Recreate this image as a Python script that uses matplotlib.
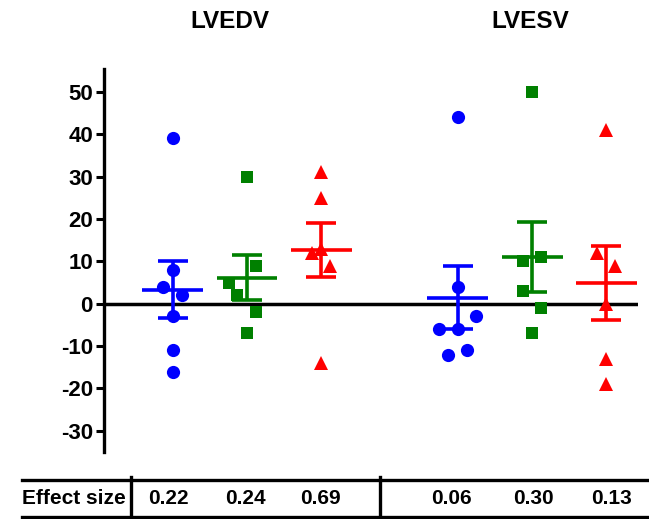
import numpy as np
import matplotlib
matplotlib.use('Agg')
import matplotlib.pyplot as plt
from matplotlib.lines import Line2D

plt.rcParams['font.family'] = ['Liberation Sans', 'DejaVu Sans']
plt.rcParams['font.weight'] = 'bold'
plt.rcParams['axes.unicode_minus'] = False

# values (change from baseline)
panels = ['LVEDV', 'LVESV']
lvedv_blue = [39, 8, 4, 2, -3, -11, -16]
lvedv_green = [30, 9, 5, 2, -2, -7]
lvedv_red = [31, 25, 13, 12, 9, -14]
lvesv_blue = [44, 4, -3, -6, -6, -11, -12]
lvesv_green = [50, 11, 10, 3, -1, -7]
lvesv_red = [41, 12, 9, 0, -13, -19]
effect_sizes = ['0.22', '0.24', '0.69', '0.06', '0.30', '0.13']
yticks = [-30, -20, -10, 0, 10, 20, 30, 40, 50]

# horizontal scatter offsets so overlapping points stay visible
jit_lvedv_blue = [0, 0, -0.13, 0.12, 0, 0, 0]
jit_lvedv_green = [0, 0.125, -0.24, -0.13, 0.125, 0]
jit_lvedv_red = [0, 0, 0, -0.125, 0.12, 0]
jit_lvesv_blue = [0, 0, 0.24, -0.25, 0, 0.12, -0.13]
jit_lvesv_green = [0, 0.125, -0.125, -0.125, 0.125, 0]
jit_lvesv_red = [0, -0.125, 0.12, 0, 0, 0]

series = [
    (1.0, lvedv_blue, jit_lvedv_blue, '#0000ff', 'o', 9.5),
    (2.0, lvedv_green, jit_lvedv_green, '#008000', 's', 8.8),
    (3.0, lvedv_red, jit_lvedv_red, '#ff0000', '^', 9.5),
    (4.836, lvesv_blue, jit_lvesv_blue, '#0000ff', 'o', 9.5),
    (5.836, lvesv_green, jit_lvesv_green, '#008000', 's', 8.8),
    (6.836, lvesv_red, jit_lvesv_red, '#ff0000', '^', 9.5),
]

fig = plt.figure(figsize=(6.49, 5.19), dpi=100)
ax = fig.add_axes([104 / 649, 1 - 452 / 519, (638 - 104) / 649, (452 - 69) / 519])

ax.axhline(0, color='black', lw=2.5, zorder=1)

lw = 2.6
for x, vals, jit, col, mk, ms in series:
    vals = np.array(vals, dtype=float)
    mean = vals.mean()
    sem = vals.std(ddof=1) / np.sqrt(len(vals))
    ax.plot(x + np.array(jit), vals, ls='none', marker=mk, ms=ms, color=col,
            markeredgewidth=0, zorder=3)
    ax.errorbar(x, mean, yerr=sem, fmt='none', ecolor=col, elinewidth=lw,
                capsize=10.8, capthick=lw, zorder=4)
    ax.hlines(mean, x - 0.41, x + 0.41, color=col, lw=lw, zorder=4)

ax.set_xlim(0.075, 7.262)
ax.set_ylim(-35, 55.4)
ax.set_yticks(yticks)
ax.set_xticks([])
for s in ['top', 'right', 'bottom']:
    ax.spines[s].set_visible(False)
ax.spines['left'].set_linewidth(2.4)
ax.tick_params(axis='y', length=6, width=2.2, pad=2, labelsize=16)
for lab in ax.get_yticklabels():
    lab.set_fontweight('bold')

# panel titles
fig.text(230 / 649, 1 - 21 / 519, panels[0], ha='center', va='center',
         fontsize=17.5, fontweight='bold')
fig.text(530 / 649, 1 - 21 / 519, panels[1], ha='center', va='center',
         fontsize=17.5, fontweight='bold')

# effect size table under the plot
def fx(px):
    return px / 649

def fy(py):
    return 1 - py / 519

lw_tab = 2.4
fig.add_artist(Line2D([fx(22), 1.0], [fy(480), fy(480)], color='black', lw=lw_tab))
fig.add_artist(Line2D([fx(22), 1.0], [fy(517), fy(517)], color='black', lw=lw_tab))
fig.add_artist(Line2D([fx(131), fx(131)], [fy(477), fy(517)], color='black', lw=lw_tab))
fig.add_artist(Line2D([fx(380), fx(380)], [fy(477), fy(517)], color='black', lw=lw_tab))

fig.text(fx(73.5), fy(499), 'Effect size', ha='center', va='center',
         fontsize=15, fontweight='bold')
tab_x = [168.5, 245, 320, 451, 533, 612]
for px, es in zip(tab_x, effect_sizes):
    fig.text(fx(px), fy(499), es, ha='center', va='center',
             fontsize=15, fontweight='bold')

fig.savefig('out.png', dpi=100)
